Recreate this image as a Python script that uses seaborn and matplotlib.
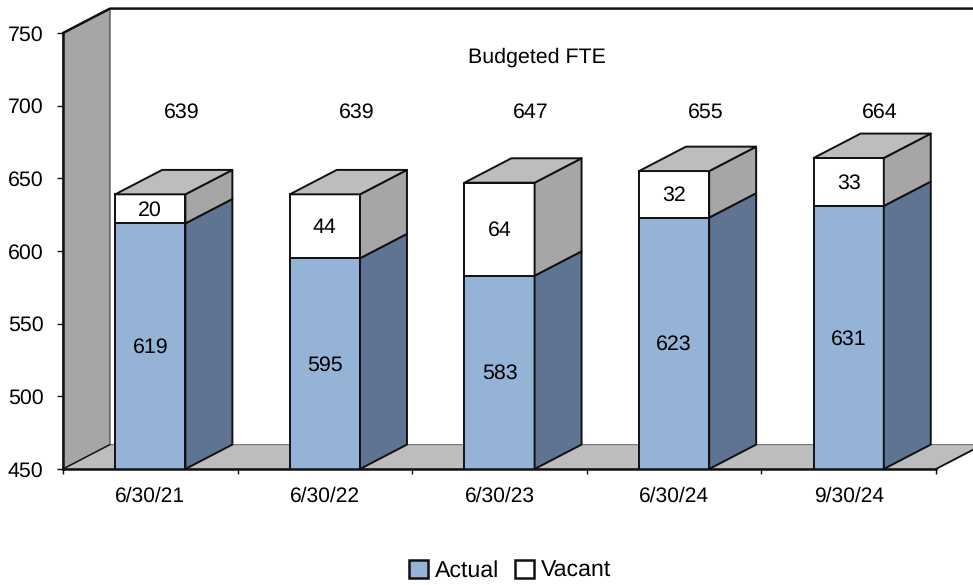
import matplotlib
matplotlib.use('Agg')
import matplotlib.pyplot as plt
from matplotlib.patches import Polygon, Patch
import seaborn as sns

dates = ['6/30/21', '6/30/22', '6/30/23', '6/30/24', '9/30/24']
actual = [619, 595, 583, 623, 631]
vacant = [20, 44, 64, 32, 33]
budgeted = [639, 639, 647, 655, 664]
y_ticks = [450, 500, 550, 600, 650, 700, 750]

blue = '#95b3d7'
blue_side = '#5f7392'
grey_top = '#bdbdbd'
grey_side = '#a6a6a6'
edge = '#111111'

# 3d offset of the fake depth, in data units
dx = 0.269
dy = 16.8
y_low = 450

sns.set_theme(style='white')
plt.rcParams['font.family'] = ['Liberation Sans', 'DejaVu Sans']
plt.rcParams['text.hinting'] = 'none'
fs = 15.4

fig = plt.figure(figsize=(9.73, 5.85), dpi=100)
ax = fig.add_axes([63 / 973, 1 - 469 / 585, 873 / 973, 436 / 585])


def face(points, color, z, lw=1.4, ec=edge):
    ax.add_patch(Polygon(points, closed=True, facecolor=color, edgecolor=ec,
                         linewidth=lw, zorder=z, clip_on=False, joinstyle='round'))


sns.barplot(x=dates, y=actual, color=blue, saturation=1, width=0.402,
            edgecolor=edge, linewidth=1.4, ax=ax)
n_actual = len(ax.patches)
sns.barplot(x=dates, y=vacant, bottom=actual, color='white', saturation=1, width=0.402,
            edgecolor=edge, linewidth=1.4, ax=ax)
bars = list(ax.patches)

ax.set_xlim(-0.5, 4.5)
ax.set_ylim(y_low, 750)

# wall and floor
x0, x1 = -0.5, 4.5
face([(x0, y_low), (x0 + dx, y_low + dy), (x0 + dx, 750 + dy), (x0, 750)], grey_side, 0.5, lw=1.0, ec='#555555')
face([(x0, y_low), (x0 + dx, y_low + dy), (x1 + dx, y_low + dy), (x1, y_low)], grey_top, 0.6, lw=0.8, ec='#777777')
ax.plot([x0, x0 + dx, x1 + dx], [750, 750 + dy, 750 + dy], color=edge, lw=1.8, clip_on=False, zorder=3)
ax.plot([x0, x0 + dx], [y_low, y_low + dy], color=edge, lw=1.0, clip_on=False, zorder=0.7)
ax.plot([x1, x1 + dx], [y_low, y_low + dy], color=edge, lw=1.3, clip_on=False, zorder=0.7)

# side and top faces of every bar
for i, bar in enumerate(bars):
    left = bar.get_x()
    right = left + bar.get_width()
    lo = max(bar.get_y(), y_low)
    hi = bar.get_y() + bar.get_height()
    side = blue_side if i < n_actual else grey_side
    face([(right, lo), (right + dx, lo + dy), (right + dx, hi + dy), (right, hi)], side, 2)
    if i >= n_actual:
        face([(left, hi), (left + dx, hi + dy), (right + dx, hi + dy), (right, hi)], grey_top, 2)

# value labels
for i in range(len(dates)):
    ax.text(i, (y_low + actual[i]) / 2 - 1, str(actual[i]), ha='center', va='center',
            fontsize=fs, color='black', zorder=4)
    ax.text(i, actual[i] + vacant[i] / 2 - 0.7, str(vacant[i]), ha='center', va='center',
            fontsize=fs, color='black', zorder=4)
    ax.text(i + 0.18, 695.5, str(budgeted[i]), ha='center', va='center',
            fontsize=fs, color='black', zorder=4)
ax.text(2.215, 733, 'Budgeted FTE', ha='center', va='center', fontsize=fs, color='black')

# axes
ax.set_yticks(y_ticks)
ax.set_xticks([x0 + i for i in range(len(dates) + 1)])
ax.set_xticklabels([])
ax.set_xticks(range(len(dates)), dates, minor=True)
ax.tick_params(axis='y', which='major', left=True, length=4.5, width=1.0, color=edge,
               labelsize=fs, labelcolor='black', pad=9.5)
ax.tick_params(axis='x', which='major', bottom=True, length=3.5, width=1.0, color=edge)
ax.tick_params(axis='x', which='minor', bottom=False, length=0, labelsize=15.1,
               labelcolor='black', pad=12.5)
sns.despine(ax=ax, top=True, right=True)
for s in ['left', 'bottom']:
    ax.spines[s].set_color(edge)
    ax.spines[s].set_linewidth(1.8)
    ax.spines[s].set_zorder(3)
ax.set_xlabel('')
ax.set_ylabel('')

handles = [Patch(facecolor=blue, edgecolor=edge, linewidth=1.8, label='Actual'),
           Patch(facecolor='white', edgecolor=edge, linewidth=1.8, label='Vacant')]
fig.legend(handles=handles, loc='center', bbox_to_anchor=(510 / 973, 1 - 571 / 585), ncol=2,
           frameon=False, fontsize=16.7, labelcolor='black', handlelength=0.82, handleheight=0.82,
           handletextpad=0.3, columnspacing=0.65, borderpad=0, borderaxespad=0)

fig.savefig('out.png', dpi=100)
